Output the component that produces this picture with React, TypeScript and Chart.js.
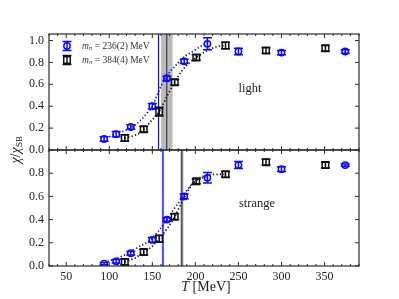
import React, { useEffect, useRef } from 'react';
import { Chart, registerables } from 'chart.js';

Chart.register(...registerables);

const SERIF = '"Liberation Serif", "DejaVu Serif", serif';
const BLUE = '#0a0aff';
const BLACK = '#111111';

// ---- data ----
const blueT = [94, 108, 125, 150, 167, 187, 214, 250, 300, 374];
const blackT = [118, 140, 158, 176, 201, 235, 282, 351];

const lightBlueV = [0.10, 0.145, 0.21, 0.40, 0.655, 0.81, 0.97, 0.90, 0.89, 0.90];
const lightBlueErr = [0.02, 0.025, 0.02, 0.025, 0.02, 0.02, 0.055, 0.03, 0.02, 0.015];
const lightBlackV = [0.11, 0.19, 0.35, 0.62, 0.845, 0.955, 0.91, 0.93];
const lightBlackErr = [0.03, 0.025, 0.04, 0.025, 0.025, 0.03, 0.025, 0.025];

const strangeBlueV = [0.02, 0.04, 0.11, 0.225, 0.40, 0.60, 0.76, 0.87, 0.835, 0.87];
const strangeBlueErr = [0.01, 0.015, 0.015, 0.02, 0.015, 0.02, 0.045, 0.03, 0.02, 0.01];
const strangeBlackV = [0.035, 0.12, 0.235, 0.425, 0.73, 0.79, 0.895, 0.87];
const strangeBlackErr = [0.025, 0.025, 0.03, 0.025, 0.02, 0.025, 0.025, 0.025];

// fit curves
const lightBlueFitT = [100, 108, 122, 135, 143, 150, 157, 163, 171, 177, 186, 197, 209, 217];
const lightBlueFitV = [0.12, 0.15, 0.19, 0.26, 0.33, 0.40, 0.53, 0.63, 0.72, 0.77, 0.845, 0.90, 0.96, 0.99];
const lightBlackFitT = [118, 128, 138, 148, 158, 167, 176, 184, 192, 202, 214, 225, 235];
const lightBlackFitV = [0.11, 0.13, 0.17, 0.26, 0.35, 0.49, 0.62, 0.72, 0.79, 0.85, 0.91, 0.945, 0.955];
const strangeBlueFitT = [98, 107, 122, 134, 147, 157, 167, 175, 184, 191, 198, 206, 214];
const strangeBlueFitV = [0.04, 0.06, 0.11, 0.165, 0.22, 0.30, 0.40, 0.49, 0.58, 0.66, 0.72, 0.755, 0.77];
const strangeBlackFitT = [118, 130, 140, 150, 158, 167, 176, 183, 190, 197, 205, 215, 225, 235];
const strangeBlackFitV = [0.035, 0.07, 0.12, 0.17, 0.235, 0.32, 0.425, 0.53, 0.63, 0.71, 0.76, 0.785, 0.79, 0.79];

// transition temperatures [blue, black] and their errors
const lightTc = [157.2, 166.8];
const lightTcErr = [0.8, 6.7];
const strangeTc = [162.3, 184.3];
const strangeTcErr = [1.4, 1.9];

const xTickStep = 10;
const yTopTicks = [0, 0.2, 0.4, 0.6, 0.8, 1.0];
const yBotTicks = [0, 0.2, 0.4, 0.6, 0.8];

const legendLabels = ['236(2)', '384(4)'];

const pts = (t: number[], v: number[]) => t.map((x, i) => ({ x, y: v[i] }));

const panelPlugin = {
  id: 'panels',
  beforeDatasetsDraw(chart: any) {
    const ctx = chart.ctx as CanvasRenderingContext2D;
    const xs = chart.scales.x;
    const panels: any[] = [
      [chart.scales.yTop, lightTc, lightTcErr],
      [chart.scales.yBot, strangeTc, strangeTcErr],
    ];
    for (const [ys, tc, err] of panels) {
      ctx.save();
      ctx.beginPath();
      ctx.rect(xs.left, ys.top, xs.right - xs.left, ys.bottom - ys.top);
      ctx.clip();
      // black band
      const b0 = xs.getPixelForValue(tc[1] - err[1]);
      const b1 = xs.getPixelForValue(tc[1] + err[1]);
      ctx.fillStyle = 'rgba(150,150,150,0.65)';
      ctx.fillRect(b0, ys.top, b1 - b0, ys.bottom - ys.top);
      ctx.strokeStyle = '#222';
      ctx.lineWidth = 1;
      const bx = xs.getPixelForValue(tc[1]);
      ctx.beginPath();
      ctx.moveTo(bx, ys.top);
      ctx.lineTo(bx, ys.bottom);
      ctx.stroke();
      // blue band
      const u0 = xs.getPixelForValue(tc[0] - err[0]);
      const u1 = xs.getPixelForValue(tc[0] + err[0]);
      ctx.fillStyle = 'rgba(70,90,255,0.45)';
      ctx.fillRect(u0, ys.top, u1 - u0, ys.bottom - ys.top);
      ctx.strokeStyle = BLUE;
      ctx.lineWidth = 1.1;
      const ux = xs.getPixelForValue(tc[0]);
      ctx.beginPath();
      ctx.moveTo(ux, ys.top);
      ctx.lineTo(ux, ys.bottom);
      ctx.stroke();
      ctx.restore();
    }
  },
  afterDatasetsDraw(chart: any) {
    const ctx = chart.ctx as CanvasRenderingContext2D;
    const xs = chart.scales.x;
    chart.data.datasets.forEach((ds: any) => {
      if (!ds.errors) return;
      const ys = chart.scales[ds.yAxisID];
      ctx.save();
      ctx.strokeStyle = ds.borderColor;
      ctx.lineWidth = 1.5;
      ds.data.forEach((p: any, j: number) => {
        const e = ds.errors[j];
        const px = xs.getPixelForValue(p.x);
        const y1 = ys.getPixelForValue(p.y - e);
        const y2 = ys.getPixelForValue(p.y + e);
        ctx.beginPath();
        ctx.moveTo(px, y1);
        ctx.lineTo(px, y2);
        ctx.moveTo(px - 4.5, y1);
        ctx.lineTo(px + 4.5, y1);
        ctx.moveTo(px - 4.5, y2);
        ctx.lineTo(px + 4.5, y2);
        ctx.stroke();
      });
      ctx.restore();
    });
  },
  afterDraw(chart: any) {
    const ctx = chart.ctx as CanvasRenderingContext2D;
    const xs = chart.scales.x;
    const panels = [chart.scales.yTop, chart.scales.yBot];
    ctx.save();
    ctx.strokeStyle = '#2a2a2a';
    ctx.lineWidth = 1.2;
    for (const ys of panels) {
      ctx.strokeRect(xs.left, ys.top, xs.right - xs.left, ys.bottom - ys.top);
      ctx.lineWidth = 1;
      ctx.beginPath();
      for (const t of xs.ticks) {
        const px = xs.getPixelForValue(t.value);
        const len = t.value % 50 === 0 ? 4 : 2;
        ctx.moveTo(px, ys.bottom);
        ctx.lineTo(px, ys.bottom - len);
        ctx.moveTo(px, ys.top);
        ctx.lineTo(px, ys.top + len);
      }
      for (const t of ys.ticks) {
        const py = ys.getPixelForValue(t.value);
        ctx.moveTo(xs.left, py);
        ctx.lineTo(xs.left + 4, py);
        ctx.moveTo(xs.right, py);
        ctx.lineTo(xs.right - 4, py);
      }
      ctx.stroke();
      ctx.lineWidth = 1.2;
    }
    ctx.restore();

    // panel labels
    ctx.save();
    ctx.fillStyle = '#222';
    ctx.font = `12.5px ${SERIF}`;
    ctx.textAlign = 'center';
    ctx.textBaseline = 'middle';
    ctx.fillText('light', 250, chart.scales.yTop.getPixelForValue(0.56));
    ctx.fillText('strange', 257, chart.scales.yBot.getPixelForValue(0.54));
    ctx.restore();

    // x title
    ctx.save();
    ctx.fillStyle = '#222';
    ctx.textBaseline = 'middle';
    ctx.font = `italic 14px ${SERIF}`;
    const wT = ctx.measureText('T').width;
    ctx.font = `14px ${SERIF}`;
    const wR = ctx.measureText(' [MeV]').width;
    const cx = (xs.left + xs.right) / 2 + 2;
    const sx = cx - (wT + wR) / 2;
    ctx.font = `italic 14px ${SERIF}`;
    ctx.fillText('T', sx, 287);
    ctx.font = `14px ${SERIF}`;
    ctx.fillText(' [MeV]', sx + wT, 287);
    ctx.restore();

    // y title
    ctx.save();
    ctx.fillStyle = '#222';
    ctx.translate(16, (chart.scales.yTop.top + chart.scales.yBot.bottom) / 2);
    ctx.rotate(-Math.PI / 2);
    ctx.textBaseline = 'middle';
    ctx.font = `italic 14px ${SERIF}`;
    const wc = ctx.measureText('χ').width;
    ctx.font = `14px ${SERIF}`;
    const ws = ctx.measureText('/').width;
    ctx.font = `9px ${SERIF}`;
    const wsb = ctx.measureText('SB').width;
    let tx = -(2 * wc + ws + wsb) / 2;
    ctx.font = `italic 14px ${SERIF}`;
    ctx.fillText('χ', tx, 0);
    tx += wc;
    ctx.font = `14px ${SERIF}`;
    ctx.fillText('/', tx, 0);
    tx += ws;
    ctx.font = `italic 14px ${SERIF}`;
    ctx.fillText('χ', tx, 0);
    tx += wc + 0.5;
    ctx.font = `9px ${SERIF}`;
    ctx.fillText('SB', tx, 3.5);
    ctx.restore();

    // legend
    const entries = [
      { y: 46, color: BLUE, style: 'circle', label: legendLabels[0] },
      { y: 60, color: BLACK, style: 'rect', label: legendLabels[1] },
    ];
    for (const en of entries) {
      const mx = 67;
      ctx.save();
      ctx.strokeStyle = en.color;
      ctx.lineWidth = 1.5;
      ctx.beginPath();
      ctx.moveTo(mx, en.y - 4.5);
      ctx.lineTo(mx, en.y + 4.5);
      ctx.moveTo(mx - 4.5, en.y - 4.5);
      ctx.lineTo(mx + 4.5, en.y - 4.5);
      ctx.moveTo(mx - 4.5, en.y + 4.5);
      ctx.lineTo(mx + 4.5, en.y + 4.5);
      ctx.stroke();
      ctx.beginPath();
      if (en.style === 'circle') ctx.arc(mx, en.y, 3.2, 0, Math.PI * 2);
      else ctx.rect(mx - 3.3, en.y - 3.3, 6.6, 6.6);
      ctx.stroke();
      ctx.fillStyle = '#333';
      ctx.textBaseline = 'middle';
      let lx = 82;
      ctx.font = `italic 9.5px ${SERIF}`;
      ctx.fillText('m', lx, en.y);
      lx += ctx.measureText('m').width;
      ctx.font = `italic 7px ${SERIF}`;
      ctx.fillText('π', lx, en.y + 2.5);
      lx += ctx.measureText('π').width;
      ctx.font = `9.5px ${SERIF}`;
      ctx.fillText(` = ${en.label} MeV`, lx, en.y);
      ctx.restore();
    }
  },
};

const fitDataset = (t: number[], v: number[], color: string, axis: string) => ({
  data: pts(t, v),
  yAxisID: axis,
  showLine: true,
  borderColor: color,
  borderWidth: 1.7,
  borderDash: [1.3, 2.2],
  pointRadius: 0,
  cubicInterpolationMode: 'monotone',
  fill: false,
});

const dataDataset = (t: number[], v: number[], err: number[], color: string, axis: string, style: string) => ({
  data: pts(t, v),
  errors: err,
  yAxisID: axis,
  showLine: false,
  borderColor: color,
  backgroundColor: 'rgba(0,0,0,0)',
  pointStyle: style,
  pointRadius: style === 'circle' ? 3.2 : 4.6,
  pointBorderWidth: 1.5,
  pointBorderColor: color,
  pointBackgroundColor: 'rgba(0,0,0,0)',
});

const tickFont = { family: SERIF, size: 12 };

export default function App() {
  const ref = useRef<HTMLCanvasElement>(null);
  useEffect(() => {
    document.body.style.margin = '0';
    const chart = new Chart(ref.current as HTMLCanvasElement, {
      type: 'scatter',
      data: {
        datasets: [
          dataDataset(blueT, lightBlueV, lightBlueErr, BLUE, 'yTop', 'circle'),
          dataDataset(blackT, lightBlackV, lightBlackErr, BLACK, 'yTop', 'rect'),
          dataDataset(blueT, strangeBlueV, strangeBlueErr, BLUE, 'yBot', 'circle'),
          dataDataset(blackT, strangeBlackV, strangeBlackErr, BLACK, 'yBot', 'rect'),
          fitDataset(lightBlueFitT, lightBlueFitV, BLUE, 'yTop'),
          fitDataset(lightBlackFitT, lightBlackFitV, BLACK, 'yTop'),
          fitDataset(strangeBlueFitT, strangeBlueFitV, BLUE, 'yBot'),
          fitDataset(strangeBlackFitT, strangeBlackFitV, BLACK, 'yBot'),
        ] as any,
      },
      options: {
        responsive: false,
        animation: false,
        events: [],
        layout: { padding: { left: 0, right: 40, top: 34, bottom: 0 } },
        plugins: { legend: { display: false }, tooltip: { enabled: false } },
        scales: {
          x: {
            type: 'linear',
            position: 'bottom',
            min: 30,
            max: 390,
            grid: { display: false, drawTicks: false },
            border: { display: false },
            ticks: {
              stepSize: xTickStep,
              autoSkip: false,
              maxRotation: 0,
              padding: 4,
              color: '#222',
              font: tickFont,
              callback: (v: any) => (Number(v) % 50 === 0 ? String(v) : ''),
            },
            afterFit: (s: any) => { s.height = 33; },
          },
          yBot: {
            type: 'linear',
            position: 'left',
            stack: 'panels',
            stackWeight: 1,
            min: 0,
            max: 1.0,
            grid: { display: false, drawTicks: false },
            border: { display: false },
            afterBuildTicks: (s: any) => { s.ticks = yBotTicks.map((value) => ({ value })); },
            ticks: { autoSkip: false, padding: 5, color: '#222', font: tickFont, callback: (v: any) => Number(v).toFixed(1) },
            afterFit: (s: any) => { s.width = 49; },
          },
          yTop: {
            type: 'linear',
            position: 'left',
            stack: 'panels',
            stackWeight: 1,
            min: 0,
            max: 1.06,
            grid: { display: false, drawTicks: false },
            border: { display: false },
            afterBuildTicks: (s: any) => { s.ticks = yTopTicks.map((value) => ({ value })); },
            ticks: { autoSkip: false, padding: 5, color: '#222', font: tickFont, callback: (v: any) => Number(v).toFixed(1) },
            afterFit: (s: any) => { s.width = 49; },
          },
        } as any,
      },
      plugins: [panelPlugin],
    });
    return () => chart.destroy();
  }, []);
  return (
    <div style={{ width: 399, height: 299 }}>
      <canvas ref={ref} width={399} height={299} style={{ display: 'block' }} />
    </div>
  );
}
